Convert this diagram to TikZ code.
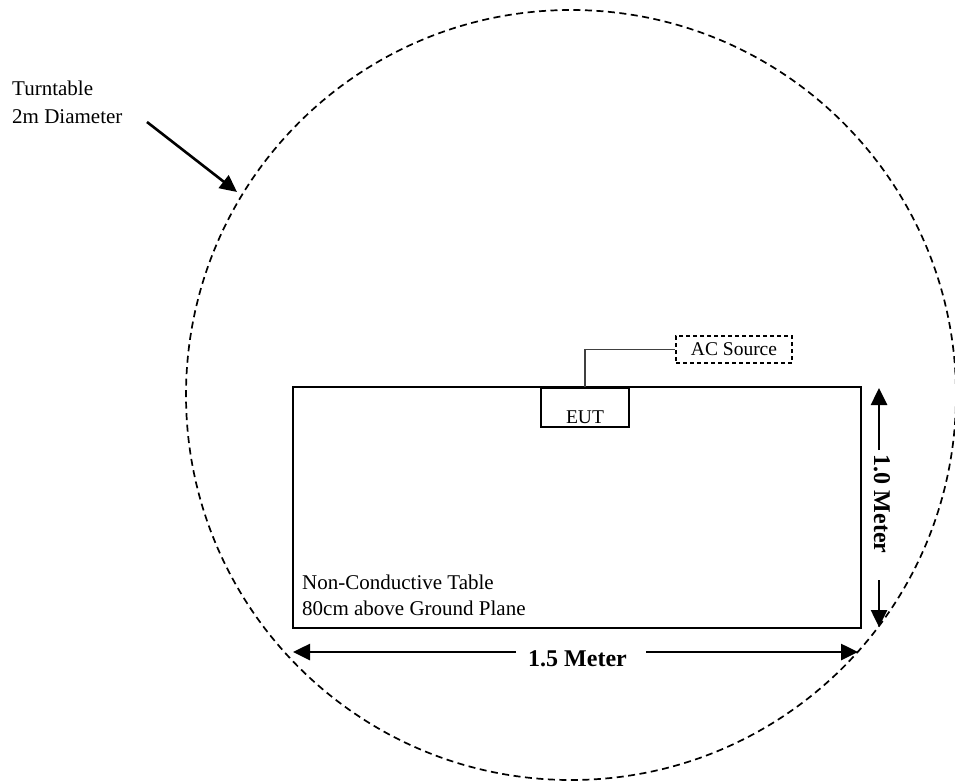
\documentclass[tikz,border=0pt]{standalone}
\usepackage{fontspec}
\setmainfont{Liberation Serif}
\usetikzlibrary{arrows.meta}

\begin{document}
\begin{tikzpicture}[x=1pt,y=-1pt,
  dimline/.style={line width=2.6pt,-{Triangle[length=17pt,width=16pt]}},
  lbl/.style={font=\fontsize{21}{25}\selectfont,inner sep=0pt},
  boldlbl/.style={font=\fontsize{24}{28}\selectfont\bfseries,inner sep=0pt},
  smalllbl/.style={font=\fontsize{19.5}{23}\selectfont}]
  \pgfmathsetmacro{\tblW}{568}
  \pgfmathsetmacro{\tblH}{241}
  \pgfmathsetmacro{\dimY}{652}
  \pgfmathsetmacro{\dimX}{879}

  \useasboundingbox (0,0) rectangle (955,782);
  \draw[line width=1.7pt,dash pattern=on 7pt off 4.5pt] (571,395) circle (385);

  \node[draw,line width=2.5pt,minimum width=\tblW pt,minimum height=\tblH pt,inner sep=0pt] (tbl) at (577,507.5) {};
  \node[draw,line width=1.4pt,minimum width=88pt,minimum height=39pt,inner sep=0pt] (eut) at (585,407.5) {};
  \node[smalllbl,anchor=base,inner sep=0pt] (euttext) at (585,423) {EUT};
  \node[draw,line width=1.2pt,dash pattern=on 4pt off 3pt,minimum width=116pt,minimum height=27pt,inner sep=0pt,smalllbl] (acsrc) at (734,349.5) {AC Source};
  \draw[line width=1.4pt,black!75] (eut.north) |- (acsrc.west);

  \node[lbl,anchor=base west] (turn1) at (12,95) {Turntable};
  \node[lbl,anchor=base west] (turn2) at (12,123) {2m Diameter};
  \coordinate (turntail) at (147,122);
  \coordinate (turntip) at (237,192);
  \draw[dimline] (turntail) -- (turntip);

  \node[lbl,anchor=base west] (tbl1) at (302,589) {Non-Conductive Table};
  \node[lbl,anchor=base west] (tbl2) at (302,615) {80cm above Ground Plane};

  \node[boldlbl,anchor=base] (wlabel) at (577.5,666) {1.5 Meter};
  \coordinate (wl) at (293,\dimY);
  \coordinate (wlend) at (516,\dimY);
  \coordinate (wr) at (858,\dimY);
  \coordinate (wrend) at (646,\dimY);
  \draw[dimline] (wlend) -- (wl);
  \draw[dimline] (wrend) -- (wr);

  \node[boldlbl,rotate=-90] (hlabel) at (882,504) {1.0 Meter};
  \coordinate (ht) at (\dimX,388);
  \coordinate (htend) at (\dimX,450);
  \coordinate (hb) at (\dimX,627);
  \coordinate (hbend) at (\dimX,580);
  \draw[dimline] (htend) -- (ht);
  \draw[dimline] (hbend) -- (hb);
\end{tikzpicture}
\end{document}
